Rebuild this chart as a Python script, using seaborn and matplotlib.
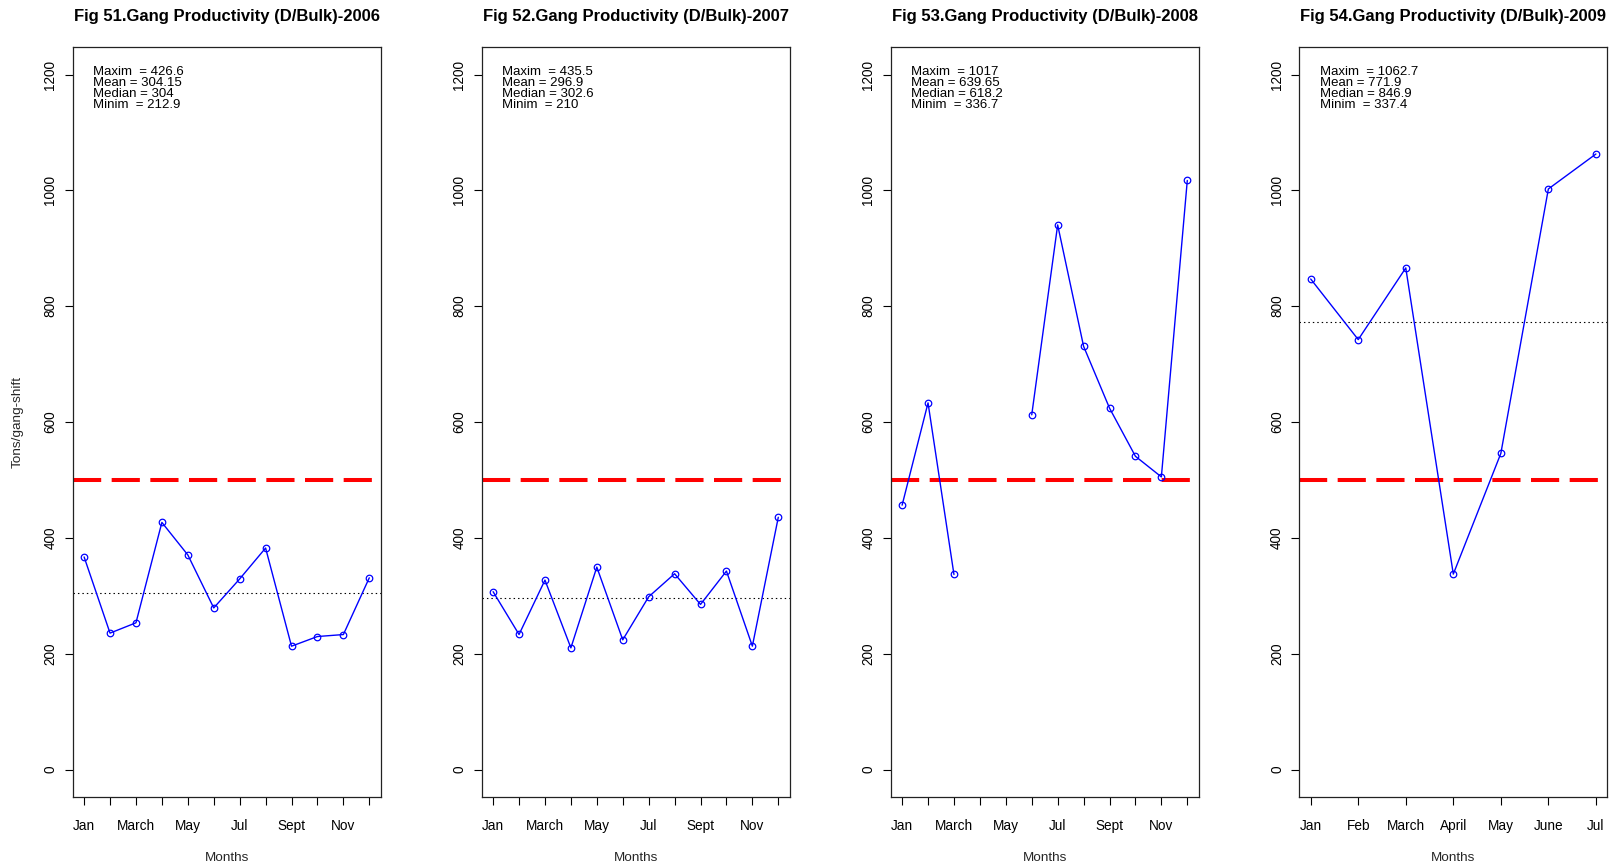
import numpy as np
import pandas as pd
import matplotlib
matplotlib.use("Agg")
import matplotlib.pyplot as plt
import seaborn as sns

# Monthly gang productivity (tons per gang-shift), D/Bulk cargo
months_full = ["Jan", "Feb", "March", "April", "May", "June",
               "Jul", "Aug", "Sept", "Oct", "Nov", "Dec"]

prod_2006 = [367, 235.5, 253.3, 426.6, 370.5, 279, 329, 382.4, 212.9, 229.6, 233, 331]
prod_2007 = [307, 233.1, 327, 210, 349.5, 223.9, 298.2, 338, 285, 342.6, 213, 435.5]
prod_2008 = [456.4, 633, 336.7, np.nan, np.nan, 612.4, 940.3, 730.7, 624, 540.8, 505.2, 1017]
prod_2009 = [846.9, 742.3, 866, 337.4, 545.7, 1002.4, 1062.7]

series = [prod_2006, prod_2007, prod_2008, prod_2009]
titles = ["Fig 51.Gang Productivity (D/Bulk)-2006",
          "Fig 52.Gang Productivity (D/Bulk)-2007",
          "Fig 53.Gang Productivity (D/Bulk)-2008",
          "Fig 54.Gang Productivity (D/Bulk)-2009"]

# Summary statistics printed in each panel
stat_lines = [
    ["Maxim  = 426.6", "Mean = 304.15", "Median = 304", "Minim  = 212.9"],
    ["Maxim  = 435.5", "Mean = 296.9", "Median = 302.6", "Minim  = 210"],
    ["Maxim  = 1017", "Mean = 639.65", "Median = 618.2", "Minim  = 336.7"],
    ["Maxim  = 1062.7", "Mean = 771.9", "Median = 846.9", "Minim  = 337.4"],
]
# Mean reference line (not drawn for 2008, which has missing months)
mean_lines = [304.15, 296.9, None, 771.9]
target = 500
y_ticks = [0, 200, 400, 600, 800, 1000, 1200]

sns.set_style("white")
plt.rcParams["font.family"] = ["Liberation Sans", "DejaVu Sans"]
plt.rcParams["text.color"] = "black"

fig = plt.figure(figsize=(16.18, 8.68), dpi=100)

lefts = [72.7, 481.7, 890.7, 1299.3]
W, H = 1618.0, 868.0
ax_w = 308.0 / W
ax_b = (H - 797.3) / H
ax_h = 750.6 / H

stat_y = [1199.5, 1180.5, 1161, 1141.5]

for i, (vals, title) in enumerate(zip(series, titles)):
    ax = fig.add_axes([lefts[i] / W, ax_b, ax_w, ax_h])
    n = len(vals)
    pos = np.arange(1, n + 1)
    arr = np.asarray(vals, dtype=float)
    # segment id so that missing months leave a gap in the line
    seg = np.cumsum(np.isnan(arr))
    df = pd.DataFrame({"pos": pos, "val": arr, "seg": seg}).dropna()

    sns.lineplot(data=df, x="pos", y="val", units="seg", estimator=None,
                 color="blue", lw=1.0, marker="o", markersize=4.7,
                 markerfacecolor="none", markeredgecolor="blue",
                 markeredgewidth=0.9, ax=ax, legend=False)

    ax.axhline(target, color="red", lw=2.9, dashes=(7.0, 2.6),
               dash_capstyle="butt", zorder=1)
    if mean_lines[i] is not None:
        ax.axhline(mean_lines[i], color="black", lw=0.8,
                   linestyle=(0, (1.3, 2.7)), zorder=1)

    pad = 0.04 * (n - 1)
    ax.set_xlim(1 - pad, n + pad)
    ax.set_ylim(-48, 1248)

    ax.set_xticks(pos)
    if n == 12:
        lbls = [m if k % 2 == 0 else "" for k, m in enumerate(months_full)]
    else:
        lbls = months_full[:n]
    ax.set_xticklabels(lbls, fontsize=9.8)
    ax.set_yticks(y_ticks)
    ax.set_yticklabels([str(v) for v in y_ticks], rotation=90,
                       va="center", fontsize=9.8)
    ax.tick_params(axis="both", direction="out", length=5.5, width=0.8,
                   color="black", labelcolor="black")
    ax.tick_params(axis="x", pad=10.2)
    ax.tick_params(axis="y", pad=5.5)
    ax.tick_params(bottom=True, left=True)

    for sp in ax.spines.values():
        sp.set_visible(True)
        sp.set_color("#222222")
        sp.set_linewidth(0.9)

    ax.set_title(title, fontsize=12, fontweight="bold", pad=18.5)
    ax.set_xlabel("Months", fontsize=9.7)
    ax.xaxis.set_label_coords(0.5, -0.073)
    if i == 0:
        ax.set_ylabel("Tons/gang-shift", fontsize=9.7)
        ax.yaxis.set_label_coords(-0.16, 0.5)
    else:
        ax.set_ylabel("")

    trans = ax.get_yaxis_transform()
    for line, yv in zip(stat_lines[i], stat_y):
        ax.text(0.0675, yv, line, transform=trans, fontsize=9.5,
                ha="left", va="baseline", color="black")

fig.savefig("out.png", dpi=100)
